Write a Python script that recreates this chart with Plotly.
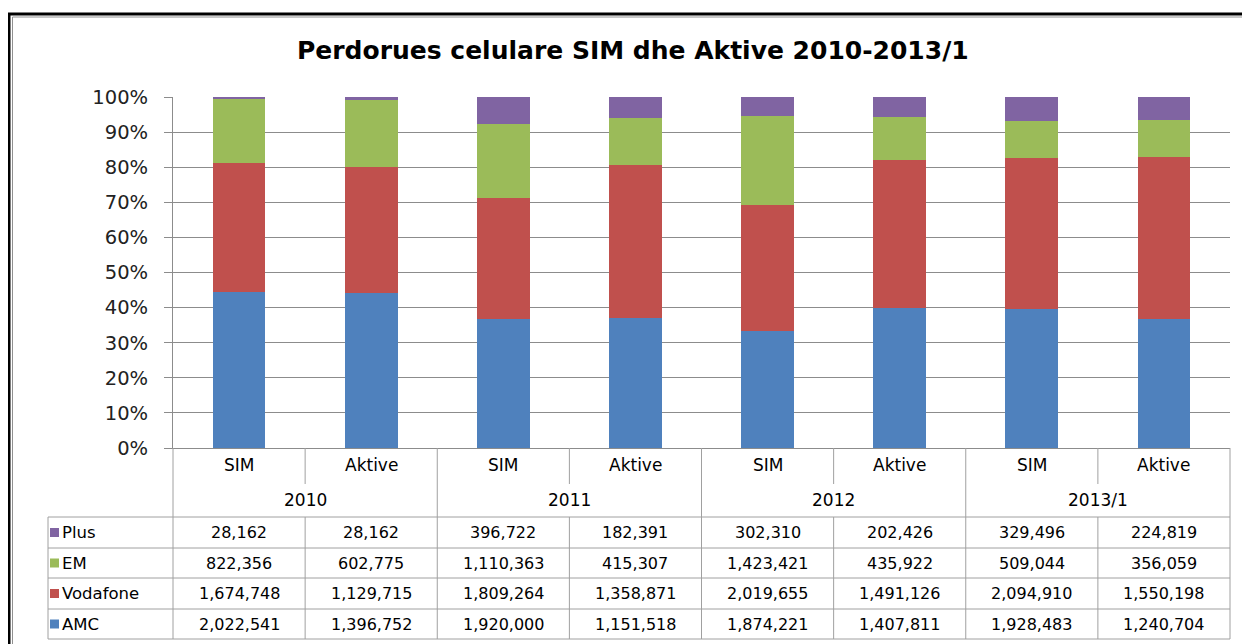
import plotly.graph_objects as go

# ---------------- data ----------------
years = ["2010", "2011", "2012", "2013/1"]
kinds = ["SIM", "Aktive"]
series_names = ["AMC", "Vodafone", "EM", "Plus"]
amc = [2022541, 1396752, 1920000, 1151518, 1874221, 1407811, 1928483, 1240704]
vodafone = [1674748, 1129715, 1809264, 1358871, 2019655, 1491126, 2094910, 1550198]
em = [822356, 602775, 1110363, 415307, 1423421, 435922, 509044, 356059]
plus = [28162, 28162, 396722, 182391, 302310, 202426, 329496, 224819]
colors = {"AMC": "#4F81BD", "Vodafone": "#C0504D", "EM": "#9BBB59", "Plus": "#8064A2"}
values = {"AMC": amc, "Vodafone": vodafone, "EM": em, "Plus": plus}
table_order = ["Plus", "EM", "Vodafone", "AMC"]

# ---------------- layout geometry (page pixels) ----------------
PW, PH = 1250, 644       # browser window
O = 8                    # default body margin of the html page
W, H = PW - O, PH - O    # figure size
L, R, T, B = 173, 1230, 97, 448   # plot area in page pixels
def px(x):
    return (x - L) / (R - L)
def py(y):
    return (B - y) / (B - T)

n = len(years) * len(kinds)
xs = list(range(n))
cat_kind = [kinds[i % 2] for i in xs]

fig = go.Figure()
for name in series_names:
    fig.add_trace(go.Bar(x=xs, y=values[name], name=name,
                         marker=dict(color=colors[name], line=dict(width=0)),
                         showlegend=False))

FONT = "DejaVu Sans"
TXT = "#000000"
GRID = "#8C8C8C"
TBL = "#A0A0A0"

shapes = []
annotations = []

# title
annotations.append(dict(text="<b>Perdorues celulare SIM dhe Aktive 2010-2013/1</b>",
                        xref="paper", yref="paper", x=px(633), y=py(51),
                        showarrow=False, font=dict(family="DejaVu Sans", size=25, color=TXT),
                        xanchor="center", yanchor="middle"))

# outer frame (double line)
shapes.append(dict(type="line", xref="paper", yref="paper", x0=px(9), x1=px(9), y0=py(PH), y1=py(14),
                   line=dict(color="black", width=3)))
shapes.append(dict(type="line", xref="paper", yref="paper", x0=px(8), x1=px(PW), y0=py(14), y1=py(14),
                   line=dict(color="black", width=3)))
shapes.append(dict(type="line", xref="paper", yref="paper", x0=px(12.5), x1=px(12.5), y0=py(PH), y1=py(17),
                   line=dict(color="#909090", width=1)))
shapes.append(dict(type="line", xref="paper", yref="paper", x0=px(12.5), x1=px(PW), y0=py(17), y1=py(17),
                   line=dict(color="#909090", width=1)))

# table geometry
row_top1 = 448      # SIM/Aktive row top
row_mid = 484       # end of short dividers
row_year_bot = 517  # bottom of year row
row_lines = [517, 548, 578, 609, 639]
label_left = 48

def col_edge(k):
    return k / n

for g in range(len(years)):
    k = 2 * g + 1
    shapes.append(dict(type="line", xref="paper", yref="paper", x0=col_edge(k), x1=col_edge(k),
                       y0=py(row_top1), y1=py(row_mid), line=dict(color=TBL, width=1)))
for g in range(len(years) + 1):
    k = 2 * g
    shapes.append(dict(type="line", xref="paper", yref="paper", x0=col_edge(k), x1=col_edge(k),
                       y0=py(row_top1), y1=py(row_year_bot), line=dict(color=TBL, width=1)))
for yl in row_lines:
    shapes.append(dict(type="line", xref="paper", yref="paper", x0=px(label_left), x1=px(R),
                       y0=py(yl), y1=py(yl), line=dict(color=TBL, width=1)))
shapes.append(dict(type="line", xref="paper", yref="paper", x0=px(label_left), x1=px(label_left),
                   y0=py(row_lines[0]), y1=py(row_lines[-1]), line=dict(color=TBL, width=1)))
for k in range(n + 1):
    shapes.append(dict(type="line", xref="paper", yref="paper", x0=col_edge(k), x1=col_edge(k),
                       y0=py(row_lines[0]), y1=py(row_lines[-1]), line=dict(color=TBL, width=1)))

# header labels
for i in xs:
    annotations.append(dict(text=cat_kind[i], xref="x", yref="paper", x=i, y=py(465),
                            showarrow=False, font=dict(family=FONT, size=17, color=TXT),
                            xanchor="center", yanchor="middle"))
for g, yr in enumerate(years):
    annotations.append(dict(text=yr, xref="x", yref="paper", x=2 * g + 0.5, y=py(500),
                            showarrow=False, font=dict(family=FONT, size=17, color=TXT),
                            xanchor="center", yanchor="middle"))

# data rows
for r, name in enumerate(table_order):
    yc = (row_lines[r] + row_lines[r + 1]) / 2
    shapes.append(dict(type="rect", xref="paper", yref="paper", x0=px(50), x1=px(59),
                       y0=py(yc + 4.5), y1=py(yc - 4.5), fillcolor=colors[name],
                       line=dict(width=0)))
    annotations.append(dict(text=name, xref="paper", yref="paper", x=px(60), y=py(yc),
                            showarrow=False, font=dict(family=FONT, size=16.5, color=TXT),
                            xanchor="left", yanchor="middle"))
    for i in xs:
        annotations.append(dict(text=f"{values[name][i]:,}", xref="x", yref="paper", x=i, y=py(yc),
                                showarrow=False, font=dict(family=FONT, size=16, color=TXT),
                                xanchor="center", yanchor="middle"))

fig.update_layout(
    width=W, height=H,
    barmode="stack", barnorm="percent", bargap=0.6,
    plot_bgcolor="white", paper_bgcolor="white",
    margin=dict(l=L - O, r=PW - R, t=T - O, b=PH - B),
    shapes=shapes, annotations=annotations,
    showlegend=False,
)
fig.update_xaxes(range=[-0.5, n - 0.5], showticklabels=False, ticks="", showgrid=False,
                 zeroline=False, showline=True, linecolor=GRID, linewidth=1)
fig.update_yaxes(range=[0, 100], dtick=10, ticksuffix="%", showgrid=True, gridcolor=GRID,
                 gridwidth=1, zeroline=False, showline=True, linecolor=GRID, linewidth=1,
                 ticks="outside", ticklen=8, tickcolor=GRID, ticklabelstandoff=12,
                 tickfont=dict(family="DejaVu Sans", size=19.5, color="#222222"))

fig.write_html("out.html")
